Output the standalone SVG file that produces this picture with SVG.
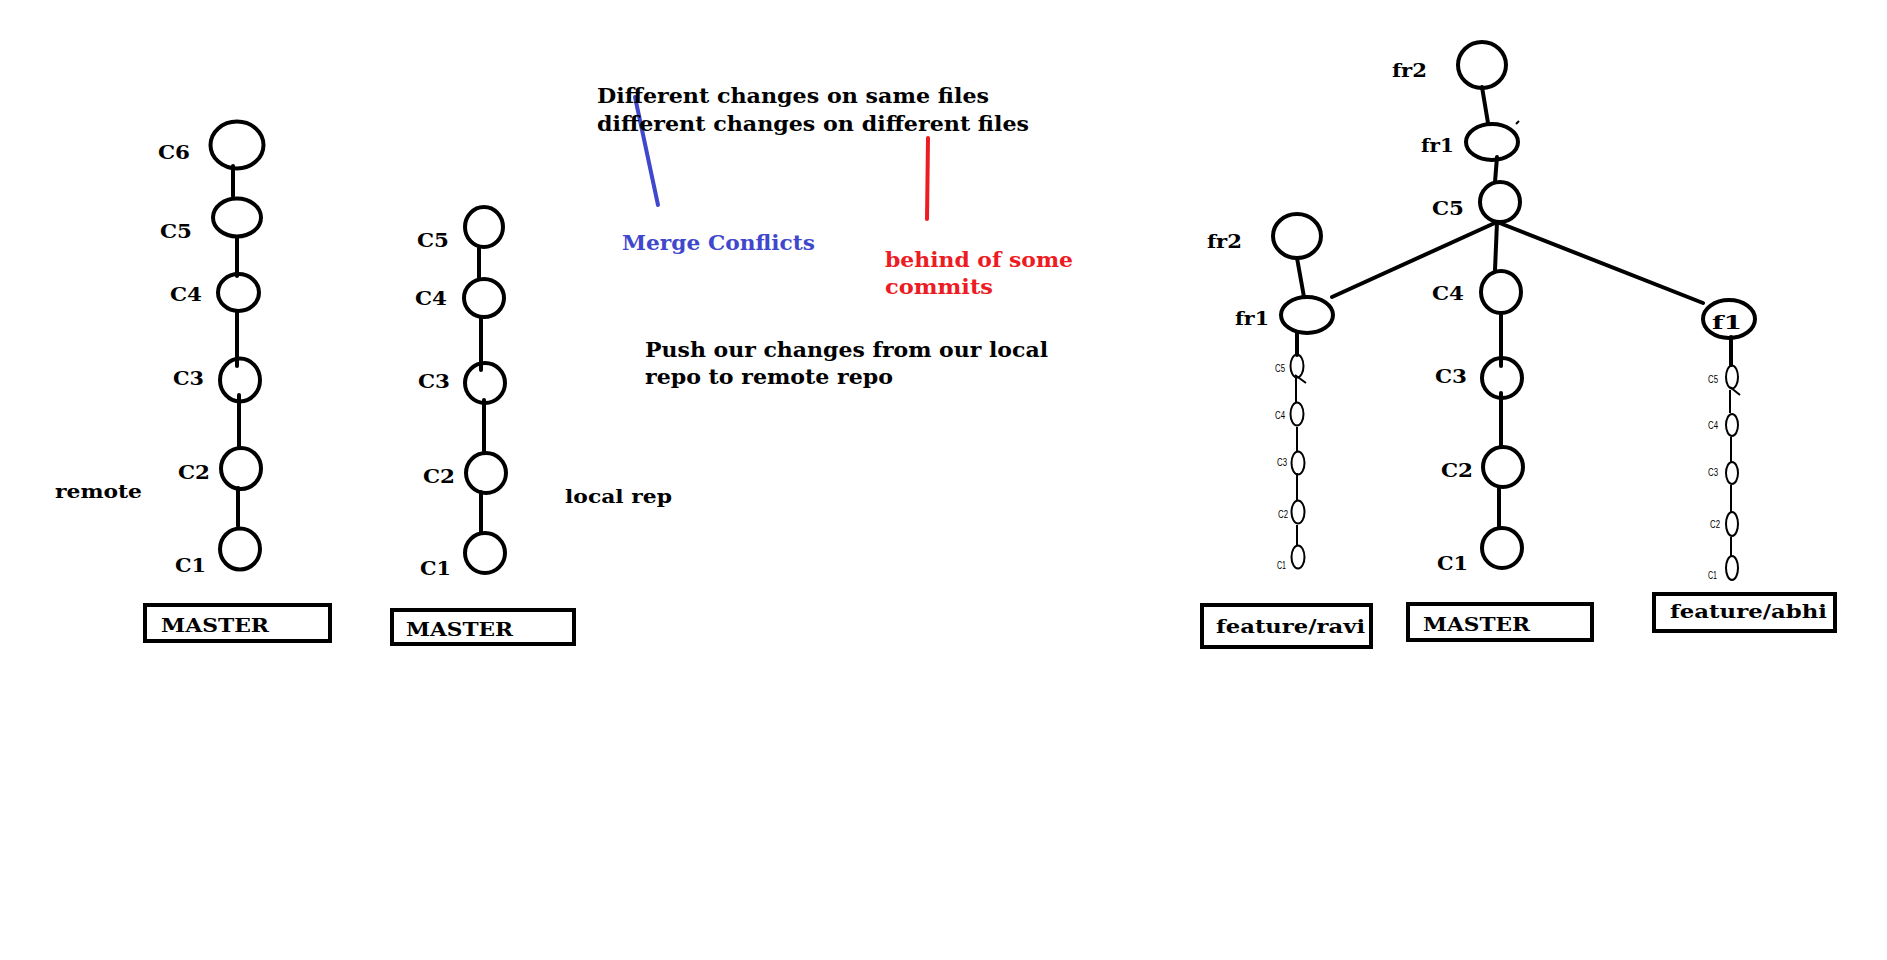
<svg xmlns="http://www.w3.org/2000/svg" width="1887" height="960" viewBox="0 0 1887 960">
<style>
.n{fill:none;stroke:#000;stroke-width:4}
.s{fill:none;stroke:#000;stroke-width:2}
.e{stroke:#000;stroke-width:4;stroke-linecap:round;fill:none}
.t{stroke:#000;stroke-width:2;fill:none}
.l{font-family:"DejaVu Serif","Liberation Serif",serif;font-weight:bold;font-size:19px;fill:#000}
.m{font-family:"DejaVu Serif","Liberation Serif",serif;font-weight:bold;font-size:21px;fill:#000}
.x{font-family:"Liberation Sans",Arial,sans-serif;font-size:10px;fill:#000}
.b{fill:#fff;stroke:#000;stroke-width:4}
</style>
<rect width="1887" height="960" fill="#fff"/>
<g id="connectors">
<line class="e" x1="233" y1="166" x2="233" y2="196"/>
<line class="e" x1="237" y1="238" x2="237" y2="276"/>
<line class="e" x1="237" y1="313" x2="237" y2="366"/>
<line class="e" x1="239" y1="395" x2="239" y2="446"/>
<line class="e" x1="238" y1="488" x2="238" y2="526"/>
<line class="e" x1="479" y1="248" x2="479" y2="278"/>
<line class="e" x1="481" y1="318" x2="481" y2="370"/>
<line class="e" x1="484" y1="400" x2="484" y2="452"/>
<line class="e" x1="481" y1="492" x2="481" y2="532"/>
<line stroke="#3f48cc" stroke-width="4" stroke-linecap="round" x1="635" y1="97" x2="658" y2="205"/>
<line stroke="#ed1c24" stroke-width="4" stroke-linecap="round" x1="928" y1="138" x2="927" y2="219"/>
<line class="e" x1="1482" y1="87" x2="1488" y2="123"/>
<line class="e" x1="1497" y1="157" x2="1495" y2="182"/>
<line class="e" x1="1497" y1="222" x2="1332" y2="297"/>
<line class="e" x1="1497" y1="222" x2="1495" y2="270"/>
<line class="e" x1="1497" y1="222" x2="1703" y2="303"/>
<line class="e" x1="1297" y1="258" x2="1304" y2="297"/>
<line class="e" x1="1297" y1="332" x2="1297" y2="355"/>
<line class="t" x1="1296" y1="378" x2="1296" y2="403"/>
<line class="t" x1="1297" y1="427" x2="1297" y2="452"/>
<line class="t" x1="1297" y1="473" x2="1297" y2="500"/>
<line class="t" x1="1297" y1="525" x2="1297" y2="546"/>
<line class="t" x1="1295" y1="375" x2="1306" y2="383"/>
<line class="e" x1="1501" y1="313" x2="1501" y2="366"/>
<line class="e" x1="1501" y1="393" x2="1501" y2="447"/>
<line class="e" x1="1499" y1="487" x2="1499" y2="527"/>
<line class="e" x1="1731" y1="337" x2="1731" y2="365"/>
<line class="t" x1="1730" y1="390" x2="1730" y2="413"/>
<line class="t" x1="1731" y1="437" x2="1731" y2="462"/>
<line class="t" x1="1731" y1="485" x2="1731" y2="512"/>
<line class="t" x1="1731" y1="537" x2="1731" y2="556"/>
<line class="t" x1="1730" y1="387" x2="1740" y2="395"/>
<line class="t" x1="1516" y1="124" x2="1519" y2="121"/>
</g>
<g id="remote">
<g id="r-c6"><ellipse class="n" cx="237" cy="145" rx="26.5" ry="23.5"/><text class="l" x="158" y="159" textLength="32" lengthAdjust="spacingAndGlyphs">C6</text></g>
<g id="r-c5"><ellipse class="n" cx="237" cy="217.5" rx="24" ry="19"/><text class="l" x="160" y="238" textLength="32" lengthAdjust="spacingAndGlyphs">C5</text></g>
<g id="r-c4"><ellipse class="n" cx="238.5" cy="292.5" rx="20.5" ry="18.5"/><text class="l" x="170" y="301" textLength="32" lengthAdjust="spacingAndGlyphs">C4</text></g>
<g id="r-c3"><ellipse class="n" cx="240" cy="380" rx="20" ry="21.5"/><text class="l" x="173" y="385" textLength="31" lengthAdjust="spacingAndGlyphs">C3</text></g>
<g id="r-c2"><ellipse class="n" cx="241" cy="468.5" rx="20" ry="20.5"/><text class="l" x="178" y="479" textLength="32" lengthAdjust="spacingAndGlyphs">C2</text></g>
<g id="r-c1"><ellipse class="n" cx="240" cy="549" rx="20" ry="20.5"/><text class="l" x="175" y="572" textLength="31" lengthAdjust="spacingAndGlyphs">C1</text></g>
<text class="l" x="55" y="498" textLength="87" lengthAdjust="spacingAndGlyphs">remote</text>
<g id="r-master"><rect class="b" x="145" y="605" width="185" height="36"/><text class="l" x="161" y="632" textLength="108" lengthAdjust="spacingAndGlyphs">MASTER</text></g>
</g>
<g id="local">
<g id="l-c5"><ellipse class="n" cx="484" cy="227" rx="19" ry="20"/><text class="l" x="417" y="247" textLength="32" lengthAdjust="spacingAndGlyphs">C5</text></g>
<g id="l-c4"><ellipse class="n" cx="484" cy="298" rx="20" ry="19"/><text class="l" x="415" y="305" textLength="32" lengthAdjust="spacingAndGlyphs">C4</text></g>
<g id="l-c3"><ellipse class="n" cx="485" cy="383" rx="20" ry="20"/><text class="l" x="418" y="388" textLength="32" lengthAdjust="spacingAndGlyphs">C3</text></g>
<g id="l-c2"><ellipse class="n" cx="486" cy="473" rx="20" ry="20"/><text class="l" x="423" y="483" textLength="32" lengthAdjust="spacingAndGlyphs">C2</text></g>
<g id="l-c1"><ellipse class="n" cx="485" cy="553" rx="20" ry="20"/><text class="l" x="420" y="575" textLength="31" lengthAdjust="spacingAndGlyphs">C1</text></g>
<text class="l" x="565" y="503" textLength="107" lengthAdjust="spacingAndGlyphs">local rep</text>
<g id="l-master"><rect class="b" x="392" y="610" width="182" height="34"/><text class="l" x="406" y="636" textLength="107" lengthAdjust="spacingAndGlyphs">MASTER</text></g>
</g>
<g id="notes">
<text class="m" x="597" y="103" textLength="392" lengthAdjust="spacingAndGlyphs">Different changes on same files</text>
<text class="m" x="597" y="131" textLength="432" lengthAdjust="spacingAndGlyphs">different changes on different files</text>
<text class="m" x="622" y="250" style="fill:#3f48cc" textLength="193" lengthAdjust="spacingAndGlyphs">Merge Conflicts</text>
<text class="m" x="885" y="267" style="fill:#ed1c24" textLength="188" lengthAdjust="spacingAndGlyphs">behind of some</text>
<text class="m" x="885" y="294" style="fill:#ed1c24" textLength="108" lengthAdjust="spacingAndGlyphs">commits</text>
<text class="m" x="645" y="357" textLength="403" lengthAdjust="spacingAndGlyphs">Push our changes from our local</text>
<text class="m" x="645" y="384" textLength="248" lengthAdjust="spacingAndGlyphs">repo to remote repo</text>
</g>
<g id="branches">
<g id="m-fr2"><ellipse class="n" cx="1482" cy="65" rx="24" ry="23"/><text class="l" x="1392" y="77" textLength="35" lengthAdjust="spacingAndGlyphs">fr2</text></g>
<g id="m-fr1"><ellipse class="n" cx="1492" cy="142" rx="26" ry="18"/><text class="l" x="1421" y="152" textLength="33" lengthAdjust="spacingAndGlyphs">fr1</text></g>
<g id="m-c5"><ellipse class="n" cx="1500" cy="202" rx="20" ry="20"/><text class="l" x="1432" y="215" textLength="32" lengthAdjust="spacingAndGlyphs">C5</text></g>
<g id="m-c4"><ellipse class="n" cx="1501" cy="292" rx="20" ry="21"/><text class="l" x="1432" y="300" textLength="32" lengthAdjust="spacingAndGlyphs">C4</text></g>
<g id="m-c3"><ellipse class="n" cx="1502" cy="378" rx="20" ry="20"/><text class="l" x="1435" y="383" textLength="32" lengthAdjust="spacingAndGlyphs">C3</text></g>
<g id="m-c2"><ellipse class="n" cx="1503" cy="467" rx="20" ry="20"/><text class="l" x="1441" y="477" textLength="32" lengthAdjust="spacingAndGlyphs">C2</text></g>
<g id="m-c1"><ellipse class="n" cx="1502" cy="548" rx="20" ry="20"/><text class="l" x="1437" y="570" textLength="31" lengthAdjust="spacingAndGlyphs">C1</text></g>
<g id="m-master"><rect class="b" x="1408" y="604" width="184" height="36"/><text class="l" x="1423" y="631" textLength="107" lengthAdjust="spacingAndGlyphs">MASTER</text></g>
<g id="r-fr2"><ellipse class="n" cx="1297" cy="236" rx="24" ry="22"/><text class="l" x="1207" y="248" textLength="35" lengthAdjust="spacingAndGlyphs">fr2</text></g>
<g id="r-fr1"><ellipse class="n" cx="1307" cy="315" rx="26" ry="18"/><text class="l" x="1235" y="325" textLength="34" lengthAdjust="spacingAndGlyphs">fr1</text></g>
<g id="rv-c5"><ellipse class="s" cx="1297" cy="366" rx="6.5" ry="11.5"/><text class="x" x="1275" y="372" textLength="10" lengthAdjust="spacingAndGlyphs">C5</text></g>
<g id="rv-c4"><ellipse class="s" cx="1297" cy="414" rx="6.5" ry="11.5"/><text class="x" x="1275" y="419" textLength="10" lengthAdjust="spacingAndGlyphs">C4</text></g>
<g id="rv-c3"><ellipse class="s" cx="1298" cy="463" rx="6.5" ry="11.5"/><text class="x" x="1277" y="466" textLength="10" lengthAdjust="spacingAndGlyphs">C3</text></g>
<g id="rv-c2"><ellipse class="s" cx="1298" cy="512" rx="6.5" ry="11.5"/><text class="x" x="1278" y="518" textLength="10" lengthAdjust="spacingAndGlyphs">C2</text></g>
<g id="rv-c1"><ellipse class="s" cx="1298" cy="557" rx="6.5" ry="11.5"/><text class="x" x="1277" y="569" textLength="9" lengthAdjust="spacingAndGlyphs">C1</text></g>
<g id="ravi"><rect class="b" x="1202" y="605" width="169" height="42"/><text class="l" x="1216" y="633" textLength="149" lengthAdjust="spacingAndGlyphs">feature/ravi</text></g>
<g id="a-f1"><ellipse class="n" cx="1729" cy="319" rx="26" ry="19"/><text class="l" x="1712" y="329" textLength="30" lengthAdjust="spacingAndGlyphs">f1</text></g>
<g id="ab-c5"><ellipse class="s" cx="1732" cy="377" rx="6" ry="11.5"/><text class="x" x="1708" y="383" textLength="10" lengthAdjust="spacingAndGlyphs">C5</text></g>
<g id="ab-c4"><ellipse class="s" cx="1732" cy="425" rx="6" ry="11"/><text class="x" x="1708" y="429" textLength="10" lengthAdjust="spacingAndGlyphs">C4</text></g>
<g id="ab-c3"><ellipse class="s" cx="1732" cy="473" rx="6" ry="11"/><text class="x" x="1708" y="476" textLength="10" lengthAdjust="spacingAndGlyphs">C3</text></g>
<g id="ab-c2"><ellipse class="s" cx="1732" cy="524" rx="6" ry="12"/><text class="x" x="1710" y="528" textLength="10" lengthAdjust="spacingAndGlyphs">C2</text></g>
<g id="ab-c1"><ellipse class="s" cx="1732" cy="568" rx="6" ry="12"/><text class="x" x="1708" y="579" textLength="9" lengthAdjust="spacingAndGlyphs">C1</text></g>
<g id="abhi"><rect class="b" x="1654" y="594" width="181" height="37"/><text class="l" x="1670" y="618" textLength="157" lengthAdjust="spacingAndGlyphs">feature/abhi</text></g>
</g>
</svg>
